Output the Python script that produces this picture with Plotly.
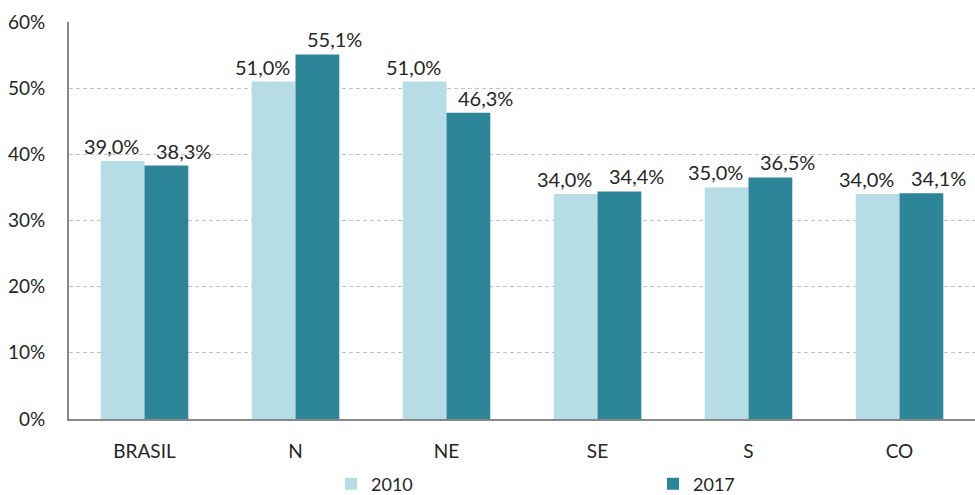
import plotly.graph_objects as go

categories = ["BRASIL", "N", "NE", "SE", "S", "CO"]
values_2010 = [39.0, 51.0, 51.0, 34.0, 35.0, 34.0]
values_2017 = [38.3, 55.1, 46.3, 34.4, 36.5, 34.1]
tick_vals = [0, 10, 20, 30, 40, 50, 60]
tick_text = ["0%", "10%", "20%", "30%", "40%", "50%", "60%"]

FONT = "Lato, Carlito, Calibri, sans-serif"
C2010 = "#b6dce6"
C2017 = "#2d8598"

fig = go.Figure()
fig.add_trace(go.Bar(name="2010", x=categories, y=values_2010,
                     marker=dict(color=C2010, line=dict(width=0))))
fig.add_trace(go.Bar(name="2017", x=categories, y=values_2017,
                     marker=dict(color=C2017, line=dict(width=0))))


def fmt(v):
    return f"{v:.1f}".replace(".", ",") + "%"


for cat, v in zip(categories, values_2010):
    fig.add_annotation(x=cat, y=v, xref="x", yref="y", text=fmt(v), showarrow=False,
                       yanchor="bottom", xanchor="center", xshift=-33, yshift=1,
                       font=dict(size=20, color="#262626", family=FONT))
for cat, v in zip(categories, values_2017):
    fig.add_annotation(x=cat, y=v, xref="x", yref="y", text=fmt(v), showarrow=False,
                       yanchor="bottom", xanchor="center", xshift=39, yshift=1,
                       font=dict(size=20, color="#262626", family=FONT))

fig.update_layout(
    width=975, height=495,
    margin=dict(l=69, r=0, t=22, b=76),
    paper_bgcolor="white", plot_bgcolor="white",
    barmode="group", bargap=0.42, bargroupgap=0,
    font=dict(family=FONT, size=19, color="#262626"),
    showlegend=True,
    legend=dict(orientation="h", x=0.648, xanchor="center",
                yref="container", y=11 / 495, yanchor="middle",
                font=dict(size=18), entrywidth=277, entrywidthmode="pixels",
                itemsizing="constant"),
    xaxis=dict(showline=True, linecolor="#888888", linewidth=2, ticks="",
               showgrid=False, ticklabelstandoff=14, tickfont=dict(size=19),
               automargin=False),
    yaxis=dict(range=[0, 60], tickvals=tick_vals, ticktext=tick_text,
               showline=True, linecolor="#888888", linewidth=2,
               showgrid=True, gridcolor="#c4c4c4", griddash="4px,3px", gridwidth=1,
               zeroline=False, ticks="", ticklabelstandoff=18, tickfont=dict(size=19),
               automargin=False),
)

fig.write_html("out.html", config={"displayModeBar": False},
               post_script="document.body.style.margin='0';")
